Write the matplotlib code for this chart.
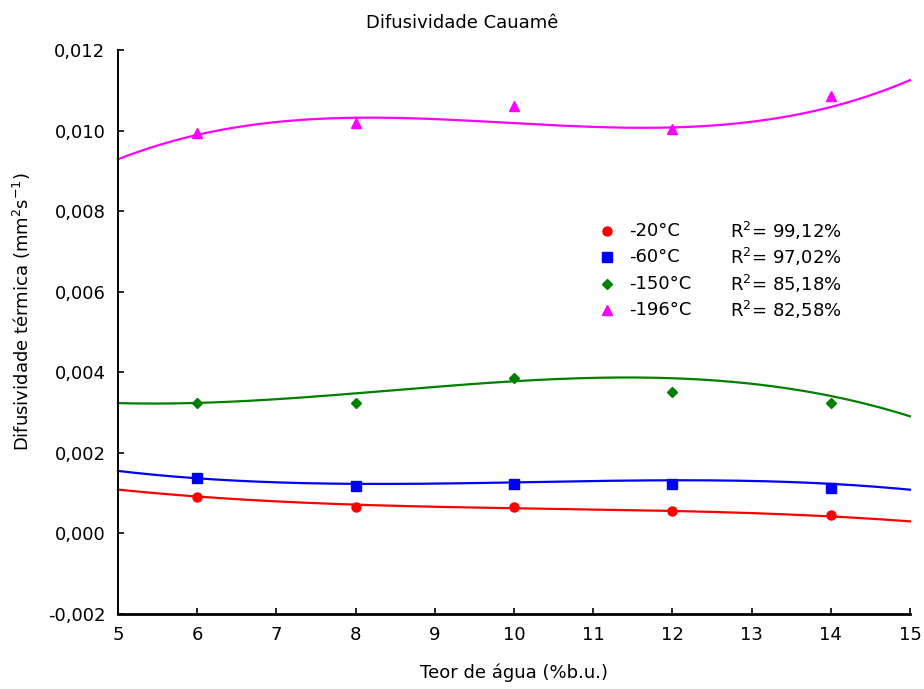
import matplotlib
matplotlib.use("Agg")
import matplotlib.pyplot as plt
import numpy as np
from matplotlib.ticker import FuncFormatter

plt.rcParams['font.family'] = ['DejaVu Sans']

teor = [6, 8, 10, 12, 14]
temps = ['-20°C', '-60°C', '-150°C', '-196°C']
r2 = ['99,12%', '97,02%', '85,18%', '82,58%']
dif_20 = [0.00091, 0.00066, 0.00066, 0.00056, 0.00046]
dif_60 = [0.00137, 0.00117, 0.00122, 0.00122, 0.00113]
dif_150 = [0.00323, 0.00323, 0.00387, 0.00352, 0.00323]
dif_196 = [0.00993, 0.01018, 0.01062, 0.01003, 0.01087]

# curvas de ajuste
teor_curva = [5, 6, 8, 10, 12, 14, 15]
curva_20 = [0.00108, 0.00093, 0.00070, 0.00064, 0.00054, 0.00044, 0.00029]
curva_60 = [0.00155, 0.00137, 0.00123, 0.00126, 0.00133, 0.00122, 0.00109]
curva_150 = [0.00324, 0.00323, 0.00348, 0.00378, 0.00385, 0.00341, 0.00291]
curva_196 = [0.00928, 0.00991, 0.01030, 0.01020, 0.01007, 0.01059, 0.01125]

series = [dif_20, dif_60, dif_150, dif_196]
curvas = [curva_20, curva_60, curva_150, curva_196]
cores = ['#ff0000', '#0000ff', '#008000', '#ff00ff']
marcas = ['o', 's', 'D', '^']
tamanhos = [6.5, 6.5, 5, 6.5]

fig = plt.figure(figsize=(9.24, 6.89), dpi=100)
ax = fig.add_axes([0.1277, 0.1089, 0.8571, 0.8185])

xs = np.linspace(5, 15, 300)
for y, cv, c, m, s in zip(series, curvas, cores, marcas, tamanhos):
    coef = np.polyfit(teor_curva, cv, 3)
    ax.plot(xs, np.polyval(coef, xs), color=c, lw=1.6, clip_on=False)
    ax.plot(teor, y, ls='none', marker=m, color=c, ms=s)

ax.set_xlim(5, 15)
ax.set_ylim(-0.002, 0.012)
ax.set_xticks(range(5, 16))
ax.set_yticks(np.arange(-0.002, 0.0121, 0.002))
ax.yaxis.set_major_formatter(FuncFormatter(lambda v, p: ('%.3f' % v).replace('.', ',').replace('-0,000', '0,000')))
for sp in ['top', 'right']:
    ax.spines[sp].set_visible(False)
ax.spines['left'].set_linewidth(1.4)
ax.spines['bottom'].set_linewidth(2)
ax.tick_params(direction='in', length=4, width=1.2, labelsize=13, pad=9)

ax.set_xlabel('Teor de água (%b.u.)', fontsize=13, labelpad=14)
fig.text(22 / 924, 1 - 312 / 689, 'Difusividade térmica (mm$^2$s$^{-1}$)',
         rotation=90, fontsize=13, ha='center', va='center')
fig.text(0.5, 1 - 23 / 689, 'Difusividade Cauamê', fontsize=13, ha='center', va='center')

# legenda
linhas_y = [0.679, 0.633, 0.585, 0.539]
for yy, c, m, s, t, r in zip(linhas_y, cores, marcas, tamanhos, temps, r2):
    ax.plot([0.617], [yy], marker=m, color=c, ms=s, ls='none',
            transform=ax.transAxes, clip_on=False)
    ax.text(0.645, yy, t, transform=ax.transAxes, fontsize=13, va='center')
    ax.text(0.773, yy, 'R$^2$= ' + r, transform=ax.transAxes, fontsize=13, va='center')

fig.savefig('out.png', dpi=100)
